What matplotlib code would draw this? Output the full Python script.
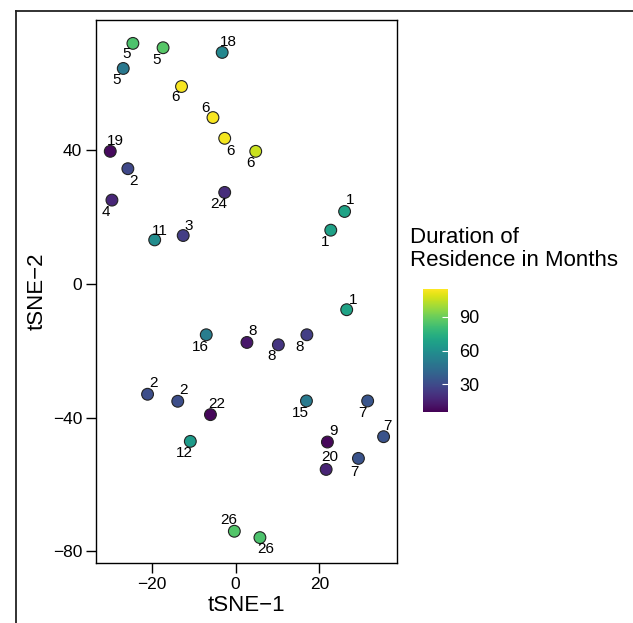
import numpy as np
import matplotlib
matplotlib.use("Agg")
from matplotlib import pyplot as plt
from matplotlib.lines import Line2D

plt.rcParams['font.family'] = ['Liberation Sans', 'DejaVu Sans']

# t-SNE coordinates, duration of residence (months) and point labels
tsne1 = [-24.5, -17.3, -26.8, -3.2, -12.9, -5.4, -2.6, 4.8, -29.9, -25.7,
         -29.5, -2.6, -19.3, -12.5, 26.0, 22.7, 26.5, -7.0, 2.7, 10.2,
         17.0, -21.0, -13.8, -6.0, -10.8, 16.9, 31.5, 35.3, 21.9, 29.3,
         21.6, -0.3, 5.8]
tsne2 = [72.0, 70.7, 64.5, 69.3, 59.1, 49.8, 43.6, 39.7, 39.7, 34.5,
         25.1, 27.4, 13.2, 14.5, 21.7, 16.1, -7.7, -15.2, -17.5, -18.2,
         -15.2, -33.0, -35.1, -39.1, -47.1, -35.0, -35.0, -45.7, -47.3, -52.2,
         -55.5, -74.0, -75.9]
duration = [84, 86, 49, 56, 114, 114, 113, 106, 8, 29,
            17, 19, 58, 25, 69, 68, 69, 51, 12, 22,
            25, 31, 31, 7, 65, 50, 34, 33, 7, 33,
            16, 85, 84]
labels = ["5", "5", "5", "18", "6", "6", "6", "6", "19", "2",
          "4", "24", "11", "3", "1", "1", "1", "16", "8", "8",
          "8", "2", "2", "22", "12", "15", "7", "7", "9", "7",
          "20", "26", "26"]

# label offsets from point, in pixels (right, down)
label_offsets = [(-6, 11), (-6, 12), (-7, 12), (6, -10), (-6, 11), (-7, -10),
                 (6, 13), (-5, 12), (5, -10), (6, 12), (-6, 12), (-6, 12),
                 (5, -9), (6, -10), (6, -11), (-6, 12), (6, -10), (-6, 12),
                 (6, -11), (-7, 11), (-7, 12), (6, -11), (6, -11), (6, -11),
                 (-6, 12), (-6, 12), (-5, 12), (4, -11), (6, -11), (-4, 14),
                 (4, -12), (-6, -11), (6, 11)]

fig = plt.figure(figsize=(6.33, 6.23), dpi=100)
ax = fig.add_axes([96/633, 1-563/623, 301/633, 543/623])

vmin, vmax = 5, 115
sc = ax.scatter(tsne1, tsne2, c=duration, cmap="viridis", vmin=vmin, vmax=vmax,
                s=72, edgecolors="#222222", linewidths=0.8, zorder=3)

px = 72.0 / fig.dpi
for x, y, lab, (dx, dy) in zip(tsne1, tsne2, labels, label_offsets):
    ax.annotate(lab, (x, y), xytext=(dx*px, -dy*px), textcoords="offset points",
                ha="center", va="center", fontsize=11, color="black", zorder=4)

ax.set_xlim(-33.3, 38.5)
ax.set_ylim(-83.5, 79.0)
ax.set_xticks([-20, 0, 20])
ax.set_yticks([-80, -40, 0, 40])
ax.set_xticklabels(["\u221220", "0", "20"])
ax.set_yticklabels(["\u221280", "\u221240", "0", "40"])
ax.tick_params(direction="out", length=7, width=1, labelsize=12.5, pad=3)
for sp in ax.spines.values():
    sp.set_linewidth(1)
ax.set_xlabel("tSNE\u22121", fontsize=16, labelpad=2)
ax.set_ylabel("tSNE\u22122", fontsize=16, labelpad=4)

# colour bar
cax = fig.add_axes([423/633, 1-412/623, 25/633, 123/623])
cb = fig.colorbar(sc, cax=cax, ticks=[30, 60, 90])
cb.outline.set_visible(False)
cb.ax.tick_params(length=4, width=0.8, color="white", direction="in", labelsize=13, pad=8)
fig.text(410/633, 1-249/623, "Duration of\nResidence in Months", fontsize=16,
         ha="left", va="center", linespacing=1.15)

# outer frame from the surrounding panel
fig.add_artist(Line2D([16/633, 1], [1-11/623, 1-11/623], color="#222222", lw=1.3,
                      transform=fig.transFigure))
fig.add_artist(Line2D([16/633, 16/633], [0, 1-11/623], color="#222222", lw=1.3,
                      transform=fig.transFigure))

fig.savefig("out.png", dpi=100, facecolor="white")
